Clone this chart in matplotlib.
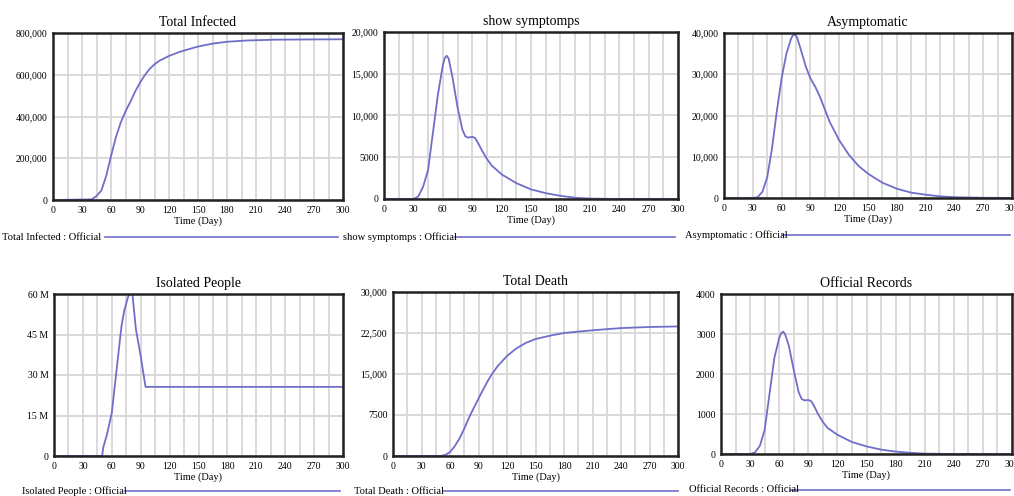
import matplotlib
matplotlib.use("Agg")
import matplotlib.pyplot as plt
from matplotlib.lines import Line2D

plt.rcParams['font.family'] = ['Liberation Serif', 'DejaVu Serif']

# ---- data (day, value) ----
inf_days = [0, 40, 45, 50, 55, 60, 65, 70, 75, 80, 85, 90, 95, 100, 105, 110, 120, 130, 140, 150, 165, 180,
            200, 230, 300]
inf_vals = [0, 3000, 19000, 45000, 115000, 210000, 300000, 370000, 425000, 470000, 520000, 562000, 598000,
            628000, 650000, 667000, 690000, 708000, 722000, 735000, 749000, 758000, 764000, 768000, 770000]

sym_days = [0, 30, 35, 40, 45, 50, 55, 60, 62, 64, 66, 70, 75, 80, 83, 86, 90, 93, 96, 100, 105, 110, 120,
            135, 150, 165, 180, 195, 210, 240, 300]
sym_vals = [0, 0, 300, 1500, 3500, 8000, 12500, 16000, 16900, 17150, 16800, 14500, 11000, 8300, 7500, 7350,
            7450, 7300, 6700, 5800, 4800, 4000, 2950, 1900, 1150, 700, 380, 150, 50, 0, 0]

asy_days = [0, 30, 35, 40, 45, 50, 55, 60, 65, 70, 72, 74, 76, 80, 85, 90, 95, 100, 105, 110, 120, 130, 140,
            150, 165, 180, 195, 210, 225, 240, 270, 300]
asy_vals = [0, 0, 200, 1500, 5000, 12000, 21000, 29000, 35000, 38700, 39500, 39600, 39000, 36000, 32000,
            29000, 27000, 24500, 21500, 18500, 14000, 10500, 7800, 5900, 3700, 2250, 1300, 800, 400, 200, 50, 0]

iso_days = [0, 50, 51, 55, 60, 65, 70, 73, 77, 81, 85, 90, 95, 300]
iso_vals = [0, 0, 3.0e6, 8e6, 16e6, 32e6, 48e6, 54e6, 59e6, 61.5e6, 47e6, 37e6, 25.6e6, 25.6e6]

dth_days = [0, 50, 55, 60, 65, 70, 75, 80, 85, 90, 95, 100, 105, 110, 120, 130, 140, 150, 165, 180, 210, 240,
            270, 300]
dth_vals = [0, 0, 200, 700, 1800, 3200, 5000, 7000, 8800, 10500, 12200, 13800, 15200, 16400, 18300, 19700,
            20700, 21400, 22000, 22500, 23000, 23400, 23600, 23700]

off_days = [0, 30, 35, 40, 45, 50, 55, 60, 62, 64, 66, 70, 75, 80, 83, 86, 90, 93, 96, 100, 105, 110, 120,
            135, 150, 165, 180, 195, 210, 240, 300]
off_vals = [0, 0, 40, 200, 600, 1500, 2400, 2900, 3020, 3060, 3000, 2700, 2100, 1550, 1380, 1340, 1350, 1320,
            1200, 1000, 800, 650, 480, 300, 190, 110, 60, 30, 10, 0, 0]

titles = ["Total Infected", "show symptomps", "Asymptomatic", "Isolated People", "Total Death", "Official Records"]
series = [(inf_days, inf_vals), (sym_days, sym_vals), (asy_days, asy_vals),
          (iso_days, iso_vals), (dth_days, dth_vals), (off_days, off_vals)]
y_ticks = [[0, 200000, 400000, 600000, 800000],
           [0, 5000, 10000, 15000, 20000],
           [0, 10000, 20000, 30000, 40000],
           [0, 15e6, 30e6, 45e6, 60e6],
           [0, 7500, 15000, 22500, 30000],
           [0, 1000, 2000, 3000, 4000]]
y_labels = [["0", "200,000", "400,000", "600,000", "800,000"],
            ["0", "5000", "10,000", "15,000", "20,000"],
            ["0", "10,000", "20,000", "30,000", "40,000"],
            ["0", "15 M", "30 M", "45 M", "60 M"],
            ["0", "7500", "15,000", "22,500", "30,000"],
            ["0", "1000", "2000", "3000", "4000"]]

W, H = 1014, 496
# axes boxes in pixels: left, top, right, bottom
boxes = [(53, 33, 343, 200), (384, 32, 678, 199), (724, 33, 1012, 198),
         (54, 294, 343, 456), (393, 292, 678, 456), (721, 294, 1012, 454)]
# legend: text x, y, line start, line end (pixels)
legends = [(2, 237, 105, 338), (343, 237, 455, 675), (685, 235, 782, 1010),
           (22, 491, 125, 340), (354, 491, 443, 678), (689, 490, 790, 1010)]

line_color = '#6f6fca'

fig = plt.figure(figsize=(W / 100, H / 100), dpi=100)

for i in range(6):
    l, t, r, b = boxes[i]
    ax = fig.add_axes([l / W, 1 - b / H, (r - l) / W, (b - t) / H])
    x, y = series[i]
    ax.plot(x, y, color=line_color, linewidth=1.3)
    ax.set_xlim(0, 300)
    ax.set_ylim(0, y_ticks[i][-1])
    ax.set_xticks(range(0, 301, 30))
    ax.set_xticks(range(15, 300, 30), minor=True)
    ax.set_yticks(y_ticks[i])
    ax.set_yticklabels(y_labels[i])
    ax.grid(which='both', color='#d9d9d9', linewidth=1.4)
    ax.set_axisbelow(True)
    ax.tick_params(which='both', length=0, labelsize=7, pad=4)
    for s in ax.spines.values():
        s.set_linewidth(1.8)
        s.set_color('#222222')
    ax.set_title(titles[i], fontsize=10, pad=5)
    ax.set_xlabel("Time (Day)", fontsize=7.5, labelpad=1)

    tx, ty, lx0, lx1 = legends[i]
    fig.text(tx / W, 1 - ty / H, titles[i] + " : Official", fontsize=7.6, va='center', ha='left')
    fig.add_artist(Line2D([lx0 / W, lx1 / W], [1 - ty / H, 1 - ty / H], color=line_color, linewidth=1.2))

fig.savefig("out.png", dpi=100)
